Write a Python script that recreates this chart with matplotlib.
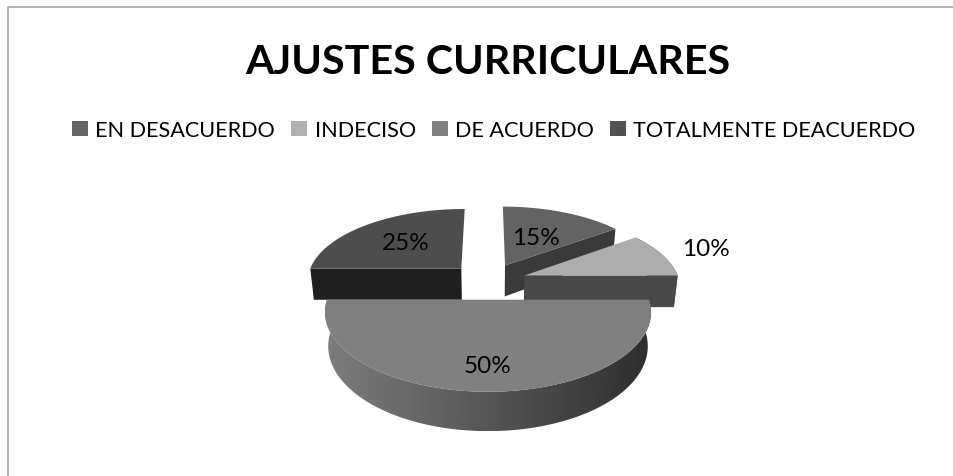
import numpy as np
import matplotlib
matplotlib.use('Agg')
import matplotlib.pyplot as plt
from matplotlib.patches import Patch, PathPatch
from matplotlib.path import Path

plt.rcParams['font.family'] = ['Lato', 'DejaVu Sans']

# Data
title = "AJUSTES CURRICULARES"
categories = ["EN DESACUERDO", "INDECISO", "DE ACUERDO", "TOTALMENTE DEACUERDO"]
values = [15, 10, 50, 25]

# Styles
top_colors = ['#636363', '#adadad', '#808080', '#4d4d4d']
legend_colors = ['#666666', '#b0b0b0', '#808080', '#525252']
side_colors = ['#3a3a3a', '#484848', '#444444', '#1f1f1f']
label_radius = [0.5, 1.34, 0.75, 0.57]

# Perspective used for the tilted pie (screen pixels)
X0, Y0 = 488, 282
RX, RY = 155, 72
PERSP = 0.15
DEPTH = 32
EXPLODE = 0.25


def project(u, v, lowered=False):
    s = 1 / (1 + PERSP * v)
    x = RX * u * s
    y = Y0 - RY * v * s
    if lowered:
        return X0 + x * 0.98, y + DEPTH * s
    return X0 + x, y


fig = plt.figure(figsize=(9.54, 4.77), dpi=100)
ax = fig.add_axes([0, 0, 1, 1])
ax.set_xlim(0, 954)
ax.set_ylim(477, 0)
ax.axis('off')

# Chart frame, only top and left are visible in the picture
ax.plot([8, 8, 954], [477, 8, 8], color='#a6a6a6', linewidth=1.2)

# Slices run clockwise from 12 o'clock
edges = 90 - np.cumsum([0] + values) * 3.6
slices = []
for i in range(len(values)):
    t1, t2 = np.radians(edges[i]), np.radians(edges[i + 1])
    mid = (t1 + t2) / 2
    slices.append((t1, t2, mid, EXPLODE * np.cos(mid), EXPLODE * np.sin(mid)))

# Back slices first, the big front one last
for i in [3, 0, 1, 2]:
    t1, t2, mid, cu, cv = slices[i]
    theta = np.linspace(t1, t2, 120)
    rim_u, rim_v = cu + np.cos(theta), cv + np.sin(theta)
    top_x, top_y = project(rim_u, rim_v)
    low_x, low_y = project(rim_u, rim_v, lowered=True)
    rim_xy = np.column_stack([np.r_[top_x, low_x[::-1]], np.r_[top_y, low_y[::-1]]])

    if i == 2:
        # outer wall of the big slice fades from left to right
        clip = PathPatch(Path(np.vstack([rim_xy, rim_xy[:1]])), transform=ax.transData,
                         facecolor='none', edgecolor='none')
        ax.add_patch(clip)
        grad = np.linspace(0.49, 0.18, 256).reshape(1, -1)
        img = ax.imshow(grad, cmap='gray', vmin=0, vmax=1, aspect='auto',
                        extent=(rim_xy[:, 0].min(), rim_xy[:, 0].max(),
                                rim_xy[:, 1].max(), rim_xy[:, 1].min()))
        img.set_clip_path(clip)
    else:
        if i == 1:
            ax.fill(rim_xy[:, 0], rim_xy[:, 1], color=side_colors[i], linewidth=0)
        # cut face that looks at the viewer
        cut = t1 if i == 3 and abs(np.cos(t1)) > abs(np.cos(t2)) else t2
        u = np.array([cu, cu + np.cos(cut)])
        v = np.array([cv, cv + np.sin(cut)])
        cx1, cy1 = project(u, v)
        cx2, cy2 = project(u, v, lowered=True)
        ax.fill(np.r_[cx1, cx2[::-1]], np.r_[cy1, cy2[::-1]], color=side_colors[i], linewidth=0)

    # top face
    face_x, face_y = project(np.r_[cu, rim_u], np.r_[cv, rim_v])
    ax.fill(face_x, face_y, color=top_colors[i], linewidth=0)

# Percentage labels
total = sum(values)
for i in range(len(values)):
    t1, t2, mid, cu, cv = slices[i]
    lx, ly = project(cu + label_radius[i] * np.cos(mid), cv + label_radius[i] * np.sin(mid))
    ax.text(lx, ly, f"{values[i] * 100 / total:.0f}%", ha='center', va='center',
            fontsize=17.5, color='black')

ax.set_xlim(0, 954)
ax.set_ylim(477, 0)

ax.text(488, 62, title, ha='center', va='center', fontsize=29.7, fontweight='bold', color='black')

handles = [Patch(facecolor=c, edgecolor='none') for c in legend_colors]
fig.legend(handles, categories, loc='center', bbox_to_anchor=(494 / 954, 1 - 131 / 477), ncol=4,
           frameon=False, fontsize=15.6, handlelength=0.72, handleheight=0.72, handletextpad=0.35,
           columnspacing=0.75, borderpad=0, borderaxespad=0)

plt.savefig('out.png', dpi=100)
